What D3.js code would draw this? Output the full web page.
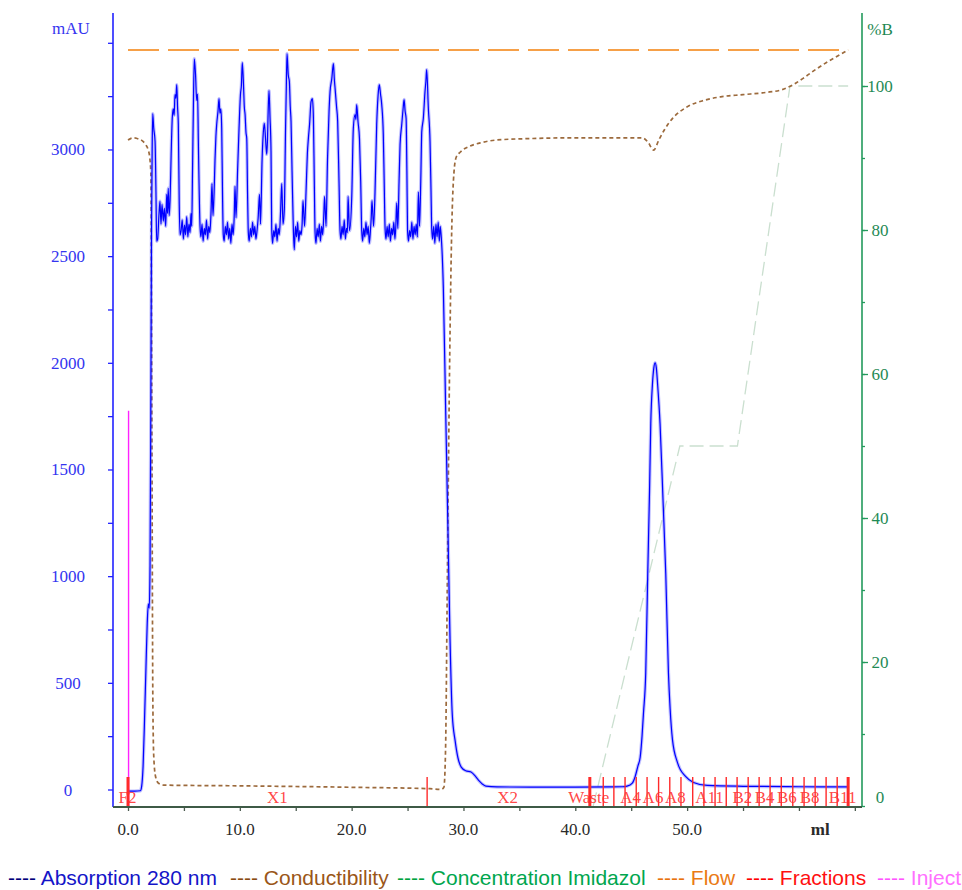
<!DOCTYPE html>
<html>
<head>
<meta charset="utf-8">
<script src="https://cdn.jsdelivr.net/npm/d3@7/dist/d3.min.js"></script>
<style>
  body { margin: 0; background: #ffffff; }
  svg { display: block; }
</style>
</head>
<body>
<svg id="chart" width="962" height="890"></svg>
<script>
// ---- Chromatogram data (elution volume in ml) ----

// UV absorption at 280 nm, [ml, mAU]
const absorbance = [
  [0.0,-8],[0.6,-8],[1.1,-6],[1.22,15],[1.35,110],[1.48,330],[1.6,560],[1.72,780],[1.82,870],[1.9,850],
  [1.97,1050],[2.04,1800],[2.1,2600],[2.16,3000],[2.21,3168],[2.3,3100],[2.42,3037],[2.5,2800],[2.56,2570],
  [2.65,2580],[2.77,2696],[2.86,2757],[2.95,2650],[3.04,2743],[3.16,2664],[3.25,2724],[3.37,2640],[3.46,2790],
  [3.53,2700],[3.6,2818],[3.68,2690],[3.76,2760],[3.86,2980],[3.96,3150],[4.05,3190],[4.13,3160],[4.2,3257],
  [4.28,3240],[4.36,3304],[4.43,3200],[4.5,3117],[4.58,2750],[4.65,2600],
  [4.75,2620],[4.85,2670],[4.95,2580],[5.05,2645],[5.15,2600],[5.25,2685],[5.35,2590],[5.45,2650],[5.55,2610],
  [5.63,2700],[5.7,2640],[5.77,2900],[5.86,3250],[5.93,3425],[6.04,3350],[6.14,3230],[6.22,3260],[6.29,3040],
  [6.35,2850],[6.44,2640],
  [6.52,2590],[6.62,2650],[6.72,2570],[6.82,2630],[6.92,2600],[7.02,2670],[7.12,2580],[7.22,2640],[7.32,2610],
  [7.42,2700],[7.51,2840],[7.6,2690],[7.7,2800],[7.78,2950],[7.86,3060],[7.93,3117],[8.05,3180],[8.14,3238],
  [8.22,3170],[8.3,3190],[8.38,3100],[8.45,2800],[8.52,2600],
  [8.6,2570],[8.7,2640],[8.8,2600],[8.9,2660],[9.0,2580],[9.1,2630],[9.2,2560],[9.3,2650],[9.4,2600],[9.5,2690],
  [9.57,2827],[9.66,2680],[9.8,2900],[9.93,3100],[10.06,3260],[10.14,3300],[10.22,3407],[10.33,3300],[10.4,3200],
  [10.47,3164],[10.55,3080],[10.62,3050],[10.69,2800],[10.76,2610],
  [10.84,2570],[10.94,2630],[11.04,2590],[11.14,2660],[11.24,2600],[11.34,2640],[11.44,2580],[11.54,2620],
  [11.64,2680],[11.76,2790],[11.85,2650],[11.99,2950],[12.1,3080],[12.19,3123],[12.3,3050],[12.4,2977],
  [12.47,3040],[12.52,3150],[12.61,3276],[12.7,3150],[12.79,2990],[12.85,2630],
  [12.93,2560],[13.03,2620],[13.13,2590],[13.23,2650],[13.33,2570],[13.43,2630],[13.53,2600],[13.63,2690],
  [13.75,2840],[13.86,2650],[13.98,2720],[14.09,3100],[14.16,3300],[14.22,3449],[14.33,3350],[14.43,3318],
  [14.51,3200],[14.58,3131],[14.67,2900],[14.79,2620],
  [14.87,2530],[14.97,2640],[15.07,2590],[15.17,2660],[15.27,2570],[15.37,2620],[15.47,2600],[15.57,2650],
  [15.65,2760],[15.79,2640],[15.92,2800],[16.04,2980],[16.13,3051],[16.24,3120],[16.37,3224],[16.49,3238],
  [16.58,3150],[16.66,2850],[16.73,2610],
  [16.81,2560],[16.91,2630],[17.01,2590],[17.11,2650],[17.21,2570],[17.31,2640],[17.41,2600],[17.5,2680],
  [17.58,2780],[17.71,2640],[17.84,2950],[17.98,3180],[18.07,3271],[18.22,3330],[18.37,3402],[18.45,3330],
  [18.52,3285],[18.65,3200],[18.75,3131],[18.87,2850],[18.96,2620],
  [19.04,2580],[19.14,2640],[19.24,2600],[19.34,2670],[19.44,2580],[19.54,2630],[19.62,2610],[19.68,2780],
  [19.81,2620],[20.01,2780],[20.15,3098],[20.3,3164],[20.38,3140],[20.45,3210],[20.57,3130],[20.7,3050],
  [20.81,2850],[20.9,2620],
  [20.98,2570],[21.08,2630],[21.18,2590],[21.28,2660],[21.38,2600],[21.48,2640],[21.58,2560],[21.68,2620],
  [21.75,2680],[21.82,2760],[21.96,2640],[22.09,2800],[22.24,3117],[22.36,3250],[22.47,3304],[22.58,3260],
  [22.69,3210],[22.83,3070],[22.91,2850],[22.99,2630],
  [23.07,2580],[23.17,2640],[23.27,2590],[23.37,2650],[23.47,2570],[23.57,2630],[23.67,2600],[23.77,2660],
  [23.87,2580],[23.95,2640],[24.03,2750],[24.13,2630],[24.24,2850],[24.33,3023],[24.48,3117],[24.6,3190],
  [24.69,3234],[24.78,3180],[24.87,3145],[24.94,2900],[25.0,2620],
  [25.08,2570],[25.18,2620],[25.28,2590],[25.38,2660],[25.48,2580],[25.58,2640],[25.68,2600],[25.78,2650],
  [25.88,2590],[25.97,2800],[26.07,2640],[26.18,2850],[26.27,3084],[26.41,3145],[26.56,3271],[26.64,3320],
  [26.71,3374],[26.86,3192],[27.01,3037],[27.1,2800],[27.16,2630],
  [27.24,2580],[27.34,2640],[27.44,2560],[27.54,2650],[27.64,2590],[27.74,2660],[27.84,2570],[27.92,2640],
  [28.0,2600],[28.2,2350],[28.4,1800],[28.6,1250],[28.8,700],[29.0,350],[29.25,230],[29.5,150],[29.8,105],
  [30.2,88],[30.68,82],[31.13,58],[31.4,40],[31.7,25],[32.0,16],[33.0,12],[36.0,11],[40.0,11],[43.0,12],
  [44.2,13],[44.63,16],[45.1,30],[45.35,60],[45.6,110],[45.8,150],[45.97,250],[46.1,360],[46.3,547],
  [46.48,1014],[46.64,1400],[46.75,1715],[46.9,1900],[47.02,1975],[47.14,2000],[47.25,1975],[47.36,1900],
  [47.58,1715],[47.85,1350],[48.09,1014],[48.33,547],[48.48,380],[48.69,234],[49.14,126],[49.86,61],
  [50.57,33],[51.8,19],[55.0,15],[60.0,13],[64.4,12]
];

// Conductivity, [ml, mS/cm]
const conductivity = [
  [0,92.5],[0.45,92.8],[1.0,92.6],[1.34,92.3],[1.6,91.8],[1.79,91.2],[1.95,90],[2.04,88],[2.1,70],[2.16,40],
  [2.22,15],[2.3,7],[2.45,4.2],[2.7,3.2],[3.2,2.9],[10,2.8],[20,2.6],[27,2.4],[28.0,2.3],[28.25,2.6],
  [28.4,8],[28.55,30],[28.75,60],[28.95,80],[29.15,88],[29.35,90.1],[29.7,90.8],[30.5,91.6],[31.5,92.1],
  [33,92.5],[36,92.7],[40,92.8],[46,92.8],[46.5,92.2],[47.0,91.1],[47.5,92.6],[48.0,94.0],[48.7,95.5],
  [50.0,97.1],[51.5,98.0],[53,98.5],[55,98.8],[57,99.1],[58.5,99.5],[59.5,100.2],[60.5,101.2],[61.5,102.3],
  [62.5,103.3],[63.5,104.2],[64.4,105]
];

// Imidazole gradient, [ml, %B]
const imidazole = [[41.6,0],[49.35,50],[54.5,50],[59.2,100],[64.4,100]];

// Flow rate, [ml, ml/min]
const flow = [[0,1.0],[64.4,1.0]];

// Fraction boundaries (ml); heavy marks flagged
const fractionMarks = [
  [0.0,true],[26.75,false],[41.3,true],[42.5,false],[43.45,false],[44.45,false],[45.45,false],[46.42,false],
  [47.45,false],[48.45,false],[49.45,false],[50.5,false],[51.5,false],[52.5,false],[53.5,false],[54.47,false],
  [55.46,false],[56.44,false],[57.42,false],[58.42,false],[59.45,false],[60.46,false],[61.45,false],
  [62.43,false],[63.42,false],[64.4,true]
];
// Fraction names and their centre positions (ml)
const fractionLabels = [
  [-0.05,"F2"],[13.35,"X1"],[33.95,"X2"],[41.2,"Waste"],[44.95,"A4"],[46.95,"A6"],[48.95,"A8"],
  [52.0,"A11"],[54.95,"B2"],[56.93,"B4"],[58.92,"B6"],[60.95,"B8"],[63.9,"B11"]
];

// Injection mark [ml, marker height in mAU]
const injection = [0.05, 1775];

// Axis ticks
const mauTicks = d3.range(0, 3501, 250);
const mauLabels = [0, 500, 1000, 1500, 2000, 2500, 3000];
const pctMinor = d3.range(0, 101, 10);
const pctLabels = [0, 20, 40, 60, 80, 100];
const mlTicks = d3.range(0, 66, 5);
const mlLabels = [0, 10, 20, 30, 40, 50];

// Legend entries
const legendItems = [
  {name: "Absorption 280 nm",       dash: "#00007a", text: "#1414c8", x: 8},
  {name: "Conductibility",          dash: "#8a4a12", text: "#9a5618", x: 230},
  {name: "Concentration Imidazol",  dash: "#00a33c", text: "#00a64e", x: 397},
  {name: "Flow",                    dash: "#e8720c", text: "#ea7a14", x: 657},
  {name: "Fractions",               dash: "#ff0000", text: "#ff1010", x: 746},
  {name: "Inject",                  dash: "#ff55ff", text: "#ff70ff", x: 877}
];

// ---- Scales ----
const plotLeft = 113, plotRight = 862, plotTop = 13, plotBottom = 807;
const x = d3.scaleLinear().domain([-1.342, 65.64]).range([plotLeft, plotRight]);
const yA = d3.scaleLinear().domain([0, 3500]).range([789.5, 42.8]);
const yB = d3.scaleLinear().domain([0, 100]).range([806, 86]);
const yCond = d3.scaleLinear().domain([0, 100]).range([806, 86]);
const yFlow = d3.scaleLinear().domain([0, 1]).range([806, yB(105)]);

const svg = d3.select("#chart");
const serif = "'Liberation Serif', 'Times New Roman', serif";
const sans = "'Liberation Sans', Arial, sans-serif";

// ---- Curves ----
const g = svg.append("g");

// Flow (orange long dashes)
g.append("path")
  .datum(flow)
  .attr("fill", "none")
  .attr("stroke", "#f6a048")
  .attr("stroke-width", 2)
  .attr("stroke-dasharray", "31,9")
  .attr("d", d3.line().x(d => x(d[0])).y(d => yFlow(d[1])));

// Imidazole gradient (faint grey-green dashes)
g.append("path")
  .datum(imidazole)
  .attr("fill", "none")
  .attr("stroke", "#cadfcf")
  .attr("stroke-width", 1.3)
  .attr("stroke-dasharray", "14,6")
  .attr("d", d3.line().x(d => x(d[0])).y(d => yB(d[1])));

// Conductivity (brown short dashes)
g.append("path")
  .datum(conductivity)
  .attr("fill", "none")
  .attr("stroke", "#9c6a3c")
  .attr("stroke-width", 1.7)
  .attr("stroke-dasharray", "4,3")
  .attr("d", d3.line().curve(d3.curveMonotoneX).x(d => x(d[0])).y(d => yCond(d[1])));

// Absorbance (blue, soft halo under a thin core line)
const absLine = d3.line().curve(d3.curveMonotoneX).x(d => x(d[0])).y(d => yA(d[1]));
g.append("path")
  .datum(absorbance)
  .attr("fill", "none")
  .attr("stroke", "rgba(90,90,255,0.38)")
  .attr("stroke-width", 3.4)
  .attr("stroke-linejoin", "round")
  .attr("d", absLine);
g.append("path")
  .datum(absorbance)
  .attr("fill", "none")
  .attr("stroke", "#0000ff")
  .attr("stroke-width", 1.2)
  .attr("stroke-linejoin", "round")
  .attr("d", absLine);

// Injection mark
g.append("line")
  .attr("x1", x(injection[0])).attr("x2", x(injection[0]))
  .attr("y1", yA(injection[1])).attr("y2", plotBottom)
  .attr("stroke", "#ff22ff")
  .attr("stroke-width", 1.4);

// Fraction marks
g.selectAll(".frac")
  .data(fractionMarks)
  .join("line")
  .attr("class", "frac")
  .attr("x1", d => x(d[0])).attr("x2", d => x(d[0]))
  .attr("y1", 777).attr("y2", plotBottom)
  .attr("stroke", "#ff2a2a")
  .attr("stroke-width", d => d[1] ? 3 : 1.4);

g.selectAll(".fracLabel")
  .data(fractionLabels)
  .join("text")
  .attr("class", "fracLabel")
  .attr("x", d => x(d[0]))
  .attr("y", 803)
  .attr("text-anchor", "middle")
  .attr("font-family", serif)
  .attr("font-size", 17)
  .attr("fill", "#ff3030")
  .attr("fill-opacity", 0.9)
  .text(d => d[1]);

// ---- Axes ----
// Left (mAU)
const axL = svg.append("g").attr("transform", `translate(${plotLeft},0)`)
  .call(d3.axisLeft(yA).tickValues(mauTicks).tickSize(5).tickSizeOuter(0).tickFormat(""));
axL.select(".domain").remove();
axL.selectAll(".tick line").attr("stroke", "#2222ff").attr("stroke-width", 1.3);
svg.append("line").attr("x1", plotLeft).attr("x2", plotLeft).attr("y1", plotTop).attr("y2", plotBottom)
  .attr("stroke", "#2222ff").attr("stroke-width", 1.6);
svg.selectAll(".mauLabel")
  .data(mauLabels)
  .join("text")
  .attr("class", "mauLabel")
  .attr("x", 68)
  .attr("y", d => yA(d) + 6)
  .attr("text-anchor", "middle")
  .attr("font-family", serif)
  .attr("font-size", 17)
  .attr("fill", "#3434f0")
  .text(d => d);
svg.append("text").attr("x", 71).attr("y", 34).attr("text-anchor", "middle")
  .attr("font-family", serif).attr("font-size", 17).attr("fill", "#3434f0").text("mAU");

// Right (%B)
const axR = svg.append("g").attr("transform", `translate(${plotRight},0)`)
  .call(d3.axisRight(yB).tickValues(pctMinor).tickSize(3).tickSizeOuter(0).tickFormat(""));
axR.select(".domain").remove();
axR.selectAll(".tick line").attr("stroke", "#239a5c").attr("stroke-width", 1.3);
const axR2 = svg.append("g").attr("transform", `translate(${plotRight},0)`)
  .call(d3.axisRight(yB).tickValues(pctLabels.filter(v => v > 0)).tickSize(6).tickSizeOuter(0).tickFormat(""));
axR2.select(".domain").remove();
axR2.selectAll(".tick line").attr("stroke", "#239a5c").attr("stroke-width", 1.3);
svg.append("line").attr("x1", plotRight).attr("x2", plotRight).attr("y1", plotTop).attr("y2", plotBottom)
  .attr("stroke", "#239a5c").attr("stroke-width", 1.6);
svg.selectAll(".pctLabel")
  .data(pctLabels)
  .join("text")
  .attr("class", "pctLabel")
  .attr("x", 880)
  .attr("y", d => Math.min(yB(d), 797) + 6)
  .attr("text-anchor", "middle")
  .attr("font-family", serif)
  .attr("font-size", 17)
  .attr("fill", "#1f8a55")
  .text(d => d);
svg.append("text").attr("x", 880).attr("y", 35).attr("text-anchor", "middle")
  .attr("font-family", serif).attr("font-size", 17).attr("fill", "#1f8a55").text("%B");

// Bottom (ml)
const axB = svg.append("g").attr("transform", `translate(0,${plotBottom})`)
  .call(d3.axisBottom(x).tickValues(mlTicks).tickSize(4).tickSizeOuter(0).tickFormat(""));
axB.select(".domain").remove();
axB.selectAll(".tick line").attr("stroke", "#4a5a4e").attr("stroke-width", 1.3);
svg.append("line").attr("x1", plotLeft).attr("x2", plotRight).attr("y1", plotBottom).attr("y2", plotBottom)
  .attr("stroke", "#3e5a46").attr("stroke-width", 1.8);
svg.selectAll(".mlLabel")
  .data(mlLabels)
  .join("text")
  .attr("class", "mlLabel")
  .attr("x", d => x(d))
  .attr("y", 835)
  .attr("text-anchor", "middle")
  .attr("font-family", serif)
  .attr("font-size", 17)
  .attr("fill", "#2a2a2a")
  .text(d3.format(".1f"));
svg.append("text").attr("x", x(61.9)).attr("y", 835).attr("text-anchor", "middle")
  .attr("font-family", serif).attr("font-size", 17).attr("font-weight", "bold")
  .attr("fill", "#2a2a2a").text("ml");

// ---- Legend ----
const leg = svg.selectAll(".legend")
  .data(legendItems)
  .join("text")
  .attr("class", "legend")
  .attr("x", d => d.x)
  .attr("y", 885)
  .attr("font-family", sans)
  .attr("font-size", 21)
  .attr("xml:space", "preserve");
leg.append("tspan").attr("fill", d => d.dash).text("---- ");
leg.append("tspan").attr("fill", d => d.text).text(d => d.name);
</script>
</body>
</html>
